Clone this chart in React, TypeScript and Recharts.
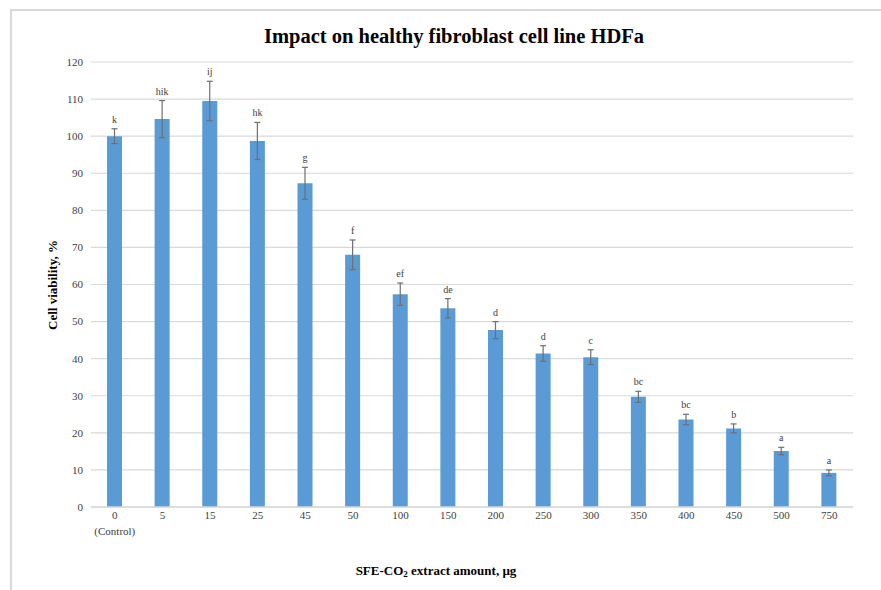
import React from "react";
import {
  BarChart,
  Bar,
  XAxis,
  YAxis,
  CartesianGrid,
  ErrorBar,
  LabelList,
} from "recharts";

const doses = ["0", "5", "15", "25", "45", "50", "100", "150", "200", "250", "300", "350", "400", "450", "500", "750"];
const viability = [100, 104.6, 109.5, 98.7, 87.3, 68, 57.4, 53.6, 47.7, 41.4, 40.4, 29.7, 23.6, 21.2, 15.1, 9.2];
const errors = [2, 5, 5.3, 5, 4.3, 4, 3, 2.6, 2.3, 2.1, 2, 1.5, 1.4, 1.2, 1, 0.8];
const groups = ["k", "hik", "ij", "hk", "g", "f", "ef", "de", "d", "d", "c", "bc", "bc", "b", "a", "a"];
const yTicks = [0, 10, 20, 30, 40, 50, 60, 70, 80, 90, 100, 110, 120];

const data = doses.map((d, i) => ({
  dose: d,
  value: viability[i],
  err: errors[i],
  group: groups[i],
}));

const FONT = "'Liberation Serif', 'Times New Roman', serif";

const DoseTick = (props: any) => {
  const { x, y, payload } = props;
  return (
    <g>
      <text x={x} y={y + 4} textAnchor="middle" fontFamily={FONT} fontSize={11} fill="#404040">
        {payload.value}
      </text>
      {payload.value === "0" && (
        <text x={x} y={y + 20} textAnchor="middle" fontFamily={FONT} fontSize={11} fill="#404040">
          (Control)
        </text>
      )}
    </g>
  );
};

const GroupLabel = (props: any) => {
  const { x, y, width, height, value, index } = props;
  const pxPerUnit = height / viability[index];
  const top = y - errors[index] * pxPerUnit;
  return (
    <text x={x + width / 2} y={top - 6} textAnchor="middle" fontFamily={FONT} fontSize={10} fill="#404040">
      {value}
    </text>
  );
};

export default function App() {
  return (
    <div style={{ position: "absolute", left: 0, top: 0, width: 881, height: 590, background: "#fff", overflow: "hidden" }}>
      <div
        style={{
          position: "absolute",
          left: 10,
          top: 9,
          width: 900,
          height: 620,
          borderLeft: "2px solid #d9d9d9",
          borderTop: "2px solid #d9d9d9",
        }}
      />
      <BarChart
        width={881}
        height={590}
        data={data}
        margin={{ top: 62, right: 28, bottom: 53, left: 51 }}
        style={{ position: "absolute", left: 0, top: 0 }}
      >
        <text x={454} y={43} textAnchor="middle" fontFamily={FONT} fontSize={20.5} fontWeight="bold" fill="#000">
          Impact on healthy fibroblast cell line HDFa
        </text>
        <CartesianGrid vertical={false} stroke="#d9d9d9" strokeWidth={1.2} />
        <XAxis
          dataKey="dose"
          tick={<DoseTick />}
          tickLine={false}
          axisLine={{ stroke: "#d9d9d9", strokeWidth: 1.5 }}
          interval={0}
        />
        <YAxis
          width={40}
          domain={[0, 120]}
          ticks={yTicks}
          tickLine={false}
          axisLine={false}
          tick={{ fontFamily: FONT, fontSize: 11, fill: "#404040" }}
        />
        <text
          x={57}
          y={285}
          transform="rotate(-90 57 285)"
          textAnchor="middle"
          fontFamily={FONT}
          fontSize={13}
          fontWeight="bold"
          fill="#000"
        >
          Cell viability, %
        </text>
        <text x={436} y={575} textAnchor="middle" fontFamily={FONT} fontSize={13} fontWeight="bold" fill="#000">
          SFE-CO
          <tspan fontSize={9} dy={2}>2</tspan>
          <tspan dy={-2}> extract amount, µg</tspan>
        </text>
        <Bar dataKey="value" fill="#5b9bd5" barSize={15} isAnimationActive={false}>
          <ErrorBar dataKey="err" width={3} stroke="#6f6f6f" strokeWidth={1.2} direction="y" />
          <LabelList dataKey="group" content={<GroupLabel />} />
        </Bar>
      </BarChart>
    </div>
  );
}
